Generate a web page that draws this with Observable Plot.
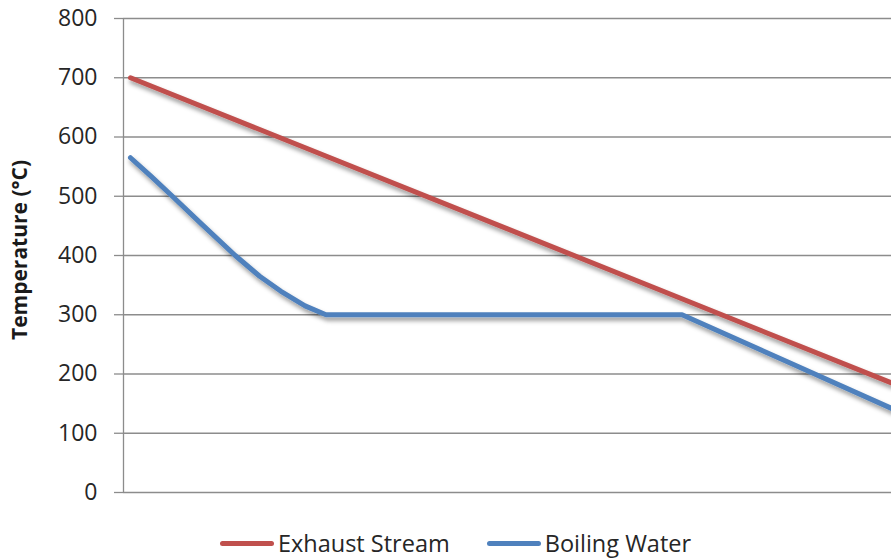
<!DOCTYPE html>
<html><head><meta charset="utf-8">
<script src="https://cdn.jsdelivr.net/npm/d3@7"></script>
<script src="https://cdn.jsdelivr.net/npm/@observablehq/plot@0.6"></script>
<style>
body{margin:0;background:#fff;font-family:"Open Sans",sans-serif;width:891px;height:559px;overflow:hidden;position:relative;}
#chart svg{display:block;}
#legend{position:absolute;left:0;top:527px;width:891px;display:flex;justify-content:center;align-items:center;padding-left:20px;box-sizing:border-box;font-size:23.5px;color:#262626;}
.item{display:flex;align-items:center;}
.sw{width:54px;height:5px;border-radius:3px;margin-right:4px;}
.item + .item{margin-left:37px;}
</style></head><body>
<div id="chart"></div>
<div id="legend"></div>
<script>
const seriesNames = ["Exhaust Stream", "Boiling Water"];
const seriesColors = ["#C0504D", "#4F81BD"];
const exhaustX = [1, 55, 110];
const exhaustT = [700, 445, 185];
const waterX = [1, 4, 7, 11, 16, 19.5, 22.5, 26, 29, 80, 95, 110];
const waterT = [565, 533, 500, 455, 400, 365, 340, 315, 300, 300, 221, 142];
const yTicks = [0, 100, 200, 300, 400, 500, 600, 700, 800];
const yLabel = "Temperature (°C)";

const data = [
  ...exhaustX.map((x, i) => ({series: seriesNames[0], x, t: exhaustT[i]})),
  ...waterX.map((x, i) => ({series: seriesNames[1], x, t: waterT[i]}))
];

const gridColor = "#8c8c8c";
const chart = Plot.plot({
  width: 891,
  height: 515,
  marginLeft: 123,
  marginRight: 0,
  marginTop: 18,
  marginBottom: 23,
  style: {fontFamily: "'Open Sans', sans-serif", fontSize: "23px", color: "#262626", background: "#fff"},
  x: {domain: [0, 110], axis: null},
  y: {domain: [0, 800], ticks: yTicks},
  color: {domain: seriesNames, range: seriesColors},
  marks: [
    Plot.gridY(yTicks, {stroke: gridColor, strokeOpacity: 1, strokeWidth: 1.3}),
    Plot.axisY(yTicks, {tickSize: 9, tickPadding: 17, stroke: gridColor, strokeWidth: 1.3, label: null, fill: "#262626"}),
    Plot.ruleX([0], {stroke: gridColor, strokeWidth: 1.3}),
    Plot.line(data, {x: "x", y: "t", z: "series", stroke: "series", strokeWidth: 5, strokeLinecap: "round", strokeLinejoin: "round"})
  ]
});
document.getElementById("chart").appendChild(chart);

const svg = d3.select(chart);
// soft drop shadow under the lines
const defs = svg.insert("defs", ":first-child");
const f = defs.append("filter").attr("id", "lineShadow")
  .attr("filterUnits", "userSpaceOnUse")
  .attr("x", 0).attr("y", 0).attr("width", 891).attr("height", 515);
f.append("feDropShadow").attr("dx", 1.5).attr("dy", 3.5).attr("stdDeviation", 2)
  .attr("flood-color", "#000").attr("flood-opacity", 0.4);
svg.selectAll("g").filter(function () {
  return this.getAttribute("aria-label") === "line";
}).attr("filter", "url(#lineShadow)");

// rotated y-axis title
svg.append("text")
  .attr("transform", `translate(27, 250) rotate(-90)`)
  .attr("text-anchor", "middle")
  .attr("font-family", "'Open Sans', sans-serif")
  .attr("font-weight", "bold")
  .attr("font-size", 21)
  .attr("fill", "#1a1a1a")
  .text(yLabel);

const legend = d3.select("#legend");
seriesNames.forEach((n, i) => {
  const it = legend.append("div").attr("class", "item");
  it.append("div").attr("class", "sw").style("background", seriesColors[i]);
  it.append("span").text(n);
});
</script>
</body></html>
